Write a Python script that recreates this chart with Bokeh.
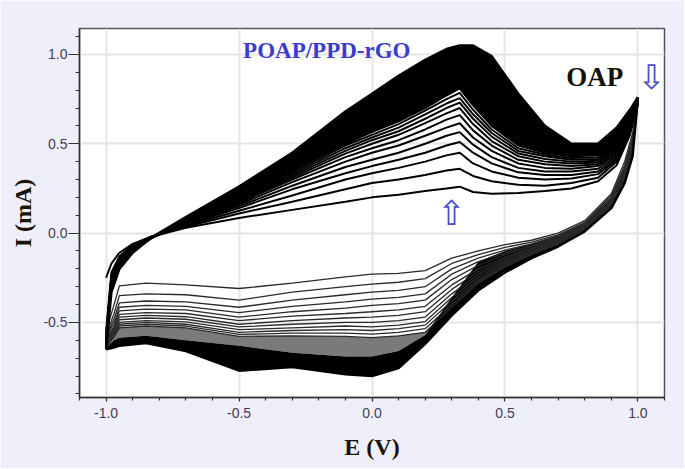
from bokeh.plotting import figure
from bokeh.models import Range1d, SingleIntervalTicker, NumeralTickFormatter
from bokeh.core.properties import value
from bokeh.embed import file_html
from bokeh.resources import INLINE

# ---------------- data ----------------
# anodic sweep potentials (V) and currents (mA), cycles 1..12 and last cycle
E_anodic = [-1.00, -0.98, -0.95, -0.90, -0.83, -0.70, -0.50, -0.30, -0.10, 0.00, 0.10, 0.20,
            0.28, 0.33, 0.38, 0.45, 0.55, 0.65, 0.75, 0.85, 0.92, 0.97, 1.00]
ia_01 = [-0.25, -0.17, -0.11, -0.06, -0.02, 0.03, 0.085, 0.13, 0.175, 0.20, 0.215, 0.235, 0.25, 0.26, 0.23, 0.22, 0.225, 0.235, 0.25, 0.29, 0.38, 0.55, 0.72]
ia_02 = [-0.55, -0.22, -0.13, -0.065, -0.02, 0.035, 0.11, 0.175, 0.245, 0.28, 0.30, 0.325, 0.35, 0.36, 0.32, 0.29, 0.27, 0.265, 0.28, 0.31, 0.40, 0.56, 0.73]
ia_03 = [-0.57, -0.24, -0.14, -0.07, -0.02, 0.04, 0.125, 0.21, 0.30, 0.335, 0.365, 0.40, 0.435, 0.45, 0.39, 0.345, 0.31, 0.30, 0.305, 0.33, 0.41, 0.57, 0.73]
ia_04 = [-0.58, -0.25, -0.15, -0.075, -0.022, 0.045, 0.14, 0.245, 0.335, 0.375, 0.41, 0.45, 0.49, 0.51, 0.45, 0.39, 0.34, 0.325, 0.325, 0.345, 0.42, 0.575, 0.735]
ia_05 = [-0.59, -0.26, -0.15, -0.08, -0.022, 0.05, 0.15, 0.265, 0.37, 0.41, 0.45, 0.50, 0.545, 0.565, 0.495, 0.425, 0.365, 0.345, 0.345, 0.36, 0.43, 0.58, 0.74]
ia_06 = [-0.60, -0.27, -0.16, -0.08, -0.024, 0.052, 0.16, 0.285, 0.40, 0.45, 0.49, 0.545, 0.59, 0.615, 0.535, 0.46, 0.39, 0.365, 0.36, 0.375, 0.44, 0.585, 0.74]
ia_07 = [-0.61, -0.28, -0.16, -0.085, -0.024, 0.055, 0.17, 0.30, 0.425, 0.475, 0.52, 0.58, 0.635, 0.66, 0.575, 0.49, 0.41, 0.385, 0.375, 0.385, 0.45, 0.59, 0.745]
ia_08 = [-0.61, -0.28, -0.17, -0.09, -0.026, 0.058, 0.175, 0.31, 0.445, 0.50, 0.55, 0.615, 0.67, 0.70, 0.61, 0.515, 0.43, 0.40, 0.39, 0.395, 0.46, 0.595, 0.745]
ia_09 = [-0.62, -0.29, -0.17, -0.09, -0.026, 0.06, 0.18, 0.32, 0.46, 0.52, 0.57, 0.64, 0.70, 0.73, 0.64, 0.54, 0.445, 0.415, 0.40, 0.405, 0.47, 0.60, 0.75]
ia_10 = [-0.62, -0.29, -0.18, -0.095, -0.028, 0.062, 0.185, 0.33, 0.475, 0.535, 0.59, 0.665, 0.725, 0.755, 0.665, 0.56, 0.46, 0.43, 0.41, 0.415, 0.475, 0.605, 0.75]
ia_11 = [-0.63, -0.30, -0.18, -0.10, -0.028, 0.064, 0.19, 0.34, 0.49, 0.55, 0.61, 0.685, 0.75, 0.785, 0.69, 0.58, 0.475, 0.44, 0.42, 0.425, 0.48, 0.61, 0.75]
ia_12 = [-0.63, -0.30, -0.19, -0.10, -0.03, 0.066, 0.195, 0.35, 0.50, 0.565, 0.625, 0.70, 0.77, 0.81, 0.715, 0.60, 0.49, 0.45, 0.43, 0.435, 0.485, 0.615, 0.755]
ia_last = [-0.65, -0.33, -0.20, -0.11, -0.025, 0.09, 0.26, 0.45, 0.68, 0.78, 0.88, 0.97, 1.03, 1.05, 1.05, 0.99, 0.78, 0.60, 0.50, 0.50, 0.59, 0.69, 0.76]

# cathodic sweep potentials (V) and currents (mA)
E_cathodic = [1.00, 0.98, 0.95, 0.90, 0.80, 0.70, 0.60, 0.50, 0.40, 0.30, 0.20, 0.10, 0.00,
              -0.10, -0.30, -0.50, -0.70, -0.85, -0.95, -0.97, -1.00]
ic_01 = [0.72, 0.56, 0.40, 0.22, 0.07, 0.0, -0.04, -0.065, -0.10, -0.14, -0.21, -0.225, -0.23, -0.245, -0.28, -0.31, -0.29, -0.28, -0.295, -0.40, -0.55]
ic_02 = [0.73, 0.54, 0.38, 0.21, 0.06, -0.01, -0.05, -0.08, -0.12, -0.17, -0.255, -0.275, -0.285, -0.30, -0.33, -0.375, -0.345, -0.34, -0.35, -0.45, -0.57]
ic_03 = [0.73, 0.52, 0.365, 0.20, 0.055, -0.015, -0.06, -0.095, -0.14, -0.20, -0.30, -0.32, -0.33, -0.345, -0.375, -0.415, -0.385, -0.38, -0.39, -0.48, -0.58]
ic_04 = [0.735, 0.51, 0.35, 0.195, 0.05, -0.02, -0.07, -0.11, -0.16, -0.23, -0.34, -0.36, -0.37, -0.385, -0.41, -0.445, -0.41, -0.405, -0.415, -0.50, -0.59]
ic_05 = [0.74, 0.50, 0.34, 0.19, 0.045, -0.025, -0.075, -0.12, -0.18, -0.26, -0.375, -0.395, -0.405, -0.42, -0.44, -0.47, -0.43, -0.425, -0.435, -0.52, -0.60]
ic_06 = [0.74, 0.49, 0.33, 0.18, 0.04, -0.03, -0.085, -0.135, -0.20, -0.29, -0.41, -0.43, -0.44, -0.45, -0.465, -0.49, -0.45, -0.445, -0.455, -0.53, -0.61]
ic_07 = [0.745, 0.48, 0.32, 0.175, 0.035, -0.035, -0.09, -0.145, -0.215, -0.315, -0.44, -0.46, -0.47, -0.475, -0.49, -0.51, -0.468, -0.46, -0.47, -0.54, -0.61]
ic_08 = [0.745, 0.47, 0.31, 0.17, 0.03, -0.04, -0.10, -0.155, -0.23, -0.34, -0.47, -0.49, -0.50, -0.50, -0.51, -0.525, -0.482, -0.475, -0.485, -0.55, -0.62]
ic_09 = [0.75, 0.46, 0.30, 0.165, 0.025, -0.045, -0.105, -0.165, -0.245, -0.36, -0.495, -0.515, -0.525, -0.52, -0.53, -0.54, -0.497, -0.49, -0.50, -0.56, -0.62]
ic_10 = [0.75, 0.45, 0.295, 0.16, 0.02, -0.05, -0.11, -0.175, -0.26, -0.38, -0.515, -0.535, -0.545, -0.54, -0.545, -0.555, -0.51, -0.50, -0.51, -0.57, -0.63]
ic_11 = [0.75, 0.445, 0.29, 0.155, 0.018, -0.055, -0.115, -0.185, -0.27, -0.40, -0.535, -0.555, -0.565, -0.56, -0.56, -0.567, -0.52, -0.51, -0.52, -0.575, -0.63]
ic_12 = [0.755, 0.44, 0.285, 0.15, 0.015, -0.06, -0.12, -0.19, -0.28, -0.415, -0.555, -0.575, -0.585, -0.578, -0.575, -0.578, -0.53, -0.52, -0.53, -0.58, -0.64]
ic_last = [0.76, 0.43, 0.28, 0.14, 0.01, -0.075, -0.14, -0.22, -0.32, -0.46, -0.62, -0.755, -0.80, -0.79, -0.75, -0.77, -0.66, -0.615, -0.63, -0.64, -0.65]
# where the solid black mass of the densely packed cycles begins (cathodic side)
ic_dense_edge = [0.74, 0.52, 0.365, 0.20, 0.055, -0.015, -0.06, -0.10, -0.16, -0.36, -0.57, -0.66, -0.69, -0.69, -0.67, -0.63, -0.60, -0.575, -0.585, -0.60, -0.64]

anodic_cycles = [ia_01, ia_02, ia_03, ia_04, ia_05, ia_06, ia_07, ia_08, ia_09, ia_10, ia_11, ia_12]
cathodic_cycles = [ic_01, ic_02, ic_03, ic_04, ic_05, ic_06, ic_07, ic_08, ic_09, ic_10, ic_11, ic_12]

title_text = "POAP/PPD-rGO"
monomer_text = "OAP"
title_pos = (-0.17, 1.02)
monomer_pos = (0.838, 0.874)
down_arrow_pos = (1.051, 0.876)
up_arrow_pos = (0.299, 0.11)

# ---------------- figure ----------------
W, H = 684, 468
p = figure(width=W, height=H, output_backend="svg", toolbar_location=None,
           x_range=Range1d(-1.1, 1.1), y_range=Range1d(-0.92, 1.145),
           min_border_left=79, min_border_right=20, min_border_top=28, min_border_bottom=71)
p.background_fill_color = "white"
p.border_fill_color = "#efeffb"
p.outline_line_color = "#555555"
p.outline_line_width = 1.5

# dense late-cycle masses
p.varea(x=E_anodic, y1=ia_12, y2=ia_last, fill_color="black")
p.varea(x=E_cathodic, y1=ic_12, y2=ic_dense_edge, fill_color="#7a7a7a")
p.varea(x=E_cathodic, y1=ic_dense_edge, y2=ic_last, fill_color="black")

for ya in anodic_cycles:
    p.line(E_anodic, ya, line_color="black", line_width=2.0)
for yc in cathodic_cycles:
    p.line(E_cathodic, yc, line_color="#2a2a2a", line_width=1.3)
p.line(E_anodic, ia_last, line_color="black", line_width=2.5)
p.line(E_cathodic, ic_last, line_color="black", line_width=2.5)

# texts
p.text(x=[title_pos[0]], y=[title_pos[1]], text=[title_text], text_align="center",
       text_baseline="middle", text_font=value("Liberation Serif"), text_font_style="bold",
       text_font_size="23px", text_color="#3b3bcc")
p.text(x=[monomer_pos[0]], y=[monomer_pos[1]], text=[monomer_text], text_align="center",
       text_baseline="middle", text_font=value("Liberation Serif"), text_font_style="bold",
       text_font_size="27px", text_color="#161208")
p.text(x=[down_arrow_pos[0], up_arrow_pos[0]], y=[down_arrow_pos[1], up_arrow_pos[1]],
       text=["\u21e9", "\u21e7"], text_align="center", text_baseline="middle",
       text_font=value("DejaVu Sans"), text_font_size="34px", text_color="#4a4ad0")

# axes
for ax in (p.xaxis[0], p.yaxis[0]):
    ax.ticker = SingleIntervalTicker(interval=0.5, num_minor_ticks=5)
    ax.formatter = NumeralTickFormatter(format="0.0")
    ax.axis_line_color = "#333333"
    ax.axis_line_width = 1.5
    ax.major_tick_line_color = "#333333"
    ax.minor_tick_line_color = "#333333"
    ax.major_tick_line_width = 1.2
    ax.minor_tick_line_width = 1.2
    ax.major_tick_in = 0
    ax.minor_tick_in = 0
    ax.major_label_text_font = "Liberation Sans"
    ax.major_label_text_font_size = "14px"
    ax.major_label_text_color = "#404055"
    ax.axis_label_text_font = "Liberation Serif"
    ax.axis_label_text_font_style = "bold"
    ax.axis_label_text_font_size = "24px"
    ax.axis_label_text_color = "#1a1408"

p.xaxis.axis_label = "E (V)"
p.xaxis.major_tick_out = 4
p.xaxis.minor_tick_out = 3
p.xaxis.major_label_standoff = 6
p.xaxis.axis_label_standoff = 13

p.yaxis.axis_label = "I (mA)"
p.yaxis.major_tick_out = 11
p.yaxis.minor_tick_out = 4
p.yaxis.major_label_standoff = 1
p.yaxis.axis_label_standoff = 4

p.xgrid.grid_line_color = "#e4e4e4"
p.ygrid.grid_line_color = "#e4e4e4"
p.xgrid.grid_line_width = 2
p.ygrid.grid_line_width = 2

open("out.html", "w").write(file_html(p, INLINE))
